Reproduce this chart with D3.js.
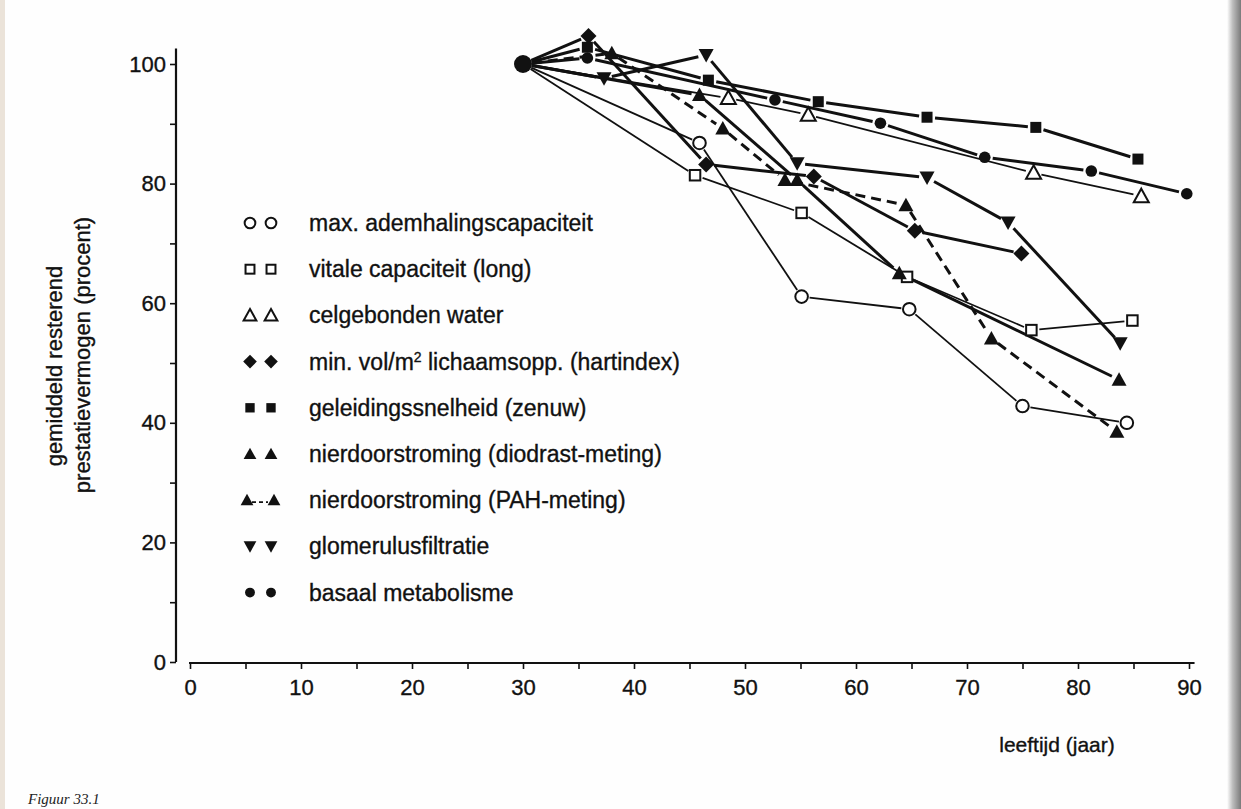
<!DOCTYPE html>
<html>
<head>
<meta charset="utf-8">
<script src="https://cdn.jsdelivr.net/npm/d3@7"></script>
<style>
  body { margin: 0; background: #fff; }
  svg { display: block; font-family: "Liberation Sans", Arial, Helvetica, sans-serif; }
  .txt { fill: #111; stroke: #111; stroke-width: 0.35px; }
</style>
</head>
<body>
<div id="chart"></div>
<script>
// ---- data ----
const seriesNames = [
  "max. ademhalingscapaciteit",
  "vitale capaciteit (long)",
  "celgebonden water",
  "min. vol/m2 lichaamsopp. (hartindex)",
  "geleidingssnelheid (zenuw)",
  "nierdoorstroming (diodrast-meting)",
  "nierdoorstroming (PAH-meting)",
  "glomerulusfiltratie",
  "basaal metabolisme"
];

const ademhalingAge = [30, 45.9, 55.1, 64.8, 75.0, 84.4];
const ademhalingVal = [100, 86.8, 61.1, 59.0, 42.8, 40.0];

const vitaleAge = [30, 45.5, 55.1, 64.6, 75.8, 84.9];
const vitaleVal = [100, 81.4, 75.1, 64.4, 55.5, 57.1];

const waterAge = [30, 48.5, 55.7, 76.0, 85.7];
const waterVal = [100, 94.3, 91.5, 81.8, 77.9];

const hartAge = [30, 35.9, 46.5, 56.2, 65.3, 74.9];
const hartVal = [100, 104.7, 83.2, 81.2, 72.1, 68.3];

const zenuwAge = [30, 35.8, 46.7, 56.6, 66.4, 76.2, 85.4];
const zenuwVal = [100, 102.8, 97.3, 93.7, 91.1, 89.4, 84.1];

const diodrastAge = [30, 45.9, 54.7, 63.9, 83.7];
const diodrastVal = [100, 94.8, 80.6, 65.0, 47.2];

const pahAge = [30, 38.0, 48.0, 53.6, 64.5, 72.2, 83.5];
const pahVal = [100, 101.8, 89.2, 80.6, 76.4, 54.1, 38.5];

const glomAge = [30, 37.3, 46.5, 54.7, 66.4, 73.7, 83.8];
const glomVal = [100, 97.6, 101.5, 83.4, 81.0, 73.5, 53.3];

const metabAge = [30, 35.8, 52.7, 62.2, 71.6, 81.2, 89.8];
const metabVal = [100, 101.0, 94.0, 90.1, 84.4, 82.1, 78.3];

const xTicks = d3.range(0, 91, 5);
const yTicks = d3.range(0, 101, 10);

// ---- layout ----
const W = 1241, H = 809;
const x = d3.scaleLinear().domain([0, 90]).range([190, 1189]);
const y = d3.scaleLinear().domain([0, 100]).range([662, 64]);

const svg = d3.select("#chart").append("svg")
  .attr("width", W).attr("height", H);

// paper
svg.append("rect").attr("width", W).attr("height", H).attr("fill", "#fefefe");
svg.append("rect").attr("width", 5).attr("height", H).attr("fill", "#ebe3d9");
const grad = svg.append("defs").append("linearGradient").attr("id", "edge");
grad.append("stop").attr("offset", "0").attr("stop-color", "#fff");
grad.append("stop").attr("offset", "0.4").attr("stop-color", "#bdbdbd");
grad.append("stop").attr("offset", "1").attr("stop-color", "#7a7a7a");
svg.append("rect").attr("x", 1227).attr("width", 14).attr("height", H).attr("fill", "url(#edge)");

// style per series: marker, filled, line width, dashed
const styles = [
  { shape: "circle",   fill: false, w: 1.8, dash: null },
  { shape: "square",   fill: false, w: 1.8, dash: null },
  { shape: "triangle", fill: false, w: 1.8, dash: null },
  { shape: "diamond",  fill: true,  w: 3,   dash: null },
  { shape: "square",   fill: true,  w: 3,   dash: null },
  { shape: "triangle", fill: true,  w: 3,   dash: null },
  { shape: "triangle", fill: true,  w: 3,   dash: "10,6" },
  { shape: "tridown",  fill: true,  w: 3,   dash: null },
  { shape: "circle",   fill: true,  w: 3,   dash: null }
];

const ages = [ademhalingAge, vitaleAge, waterAge, hartAge, zenuwAge, diodrastAge, pahAge, glomAge, metabAge];
const vals = [ademhalingVal, vitaleVal, waterVal, hartVal, zenuwVal, diodrastVal, pahVal, glomVal, metabVal];

function drawMarker(g, shape, filled, cx, cy, k) {
  const fill = filled ? "#111" : "#fff";
  const sw = filled ? 0 : 2;
  let node;
  if (shape === "circle") {
    node = g.append("circle").attr("cx", cx).attr("cy", cy).attr("r", (filled ? 5.8 : 6.3) * k);
  } else if (shape === "square") {
    const s = (filled ? 11 : 10.5) * k;
    node = g.append("rect").attr("x", cx - s / 2).attr("y", cy - s / 2).attr("width", s).attr("height", s);
  } else if (shape === "diamond") {
    const s = 8 * k;
    node = g.append("path").attr("d", `M${cx},${cy - s}L${cx + s},${cy}L${cx},${cy + s}L${cx - s},${cy}Z`);
  } else {
    const s = 7.5 * k, dir = shape === "tridown" ? -1 : 1;
    node = g.append("path").attr("d",
      `M${cx},${cy - dir * s}L${cx + s},${cy + dir * s * 0.8}L${cx - s},${cy + dir * s * 0.8}Z`);
  }
  node.attr("fill", fill).attr("stroke", "#111").attr("stroke-width", sw);
}

// lines, trimmed near the markers like in the print
const linesG = svg.append("g");
const gap = 8;
ages.forEach((a, i) => {
  const st = styles[i];
  for (let j = 0; j < a.length - 1; j++) {
    const x1 = x(a[j]), y1 = y(vals[i][j]), x2 = x(a[j + 1]), y2 = y(vals[i][j + 1]);
    const len = Math.hypot(x2 - x1, y2 - y1);
    const g1 = j === 0 ? 9 : gap, g2 = gap;
    if (len <= g1 + g2) continue;
    const ux = (x2 - x1) / len, uy = (y2 - y1) / len;
    linesG.append("line")
      .attr("x1", x1 + ux * g1).attr("y1", y1 + uy * g1)
      .attr("x2", x2 - ux * g2).attr("y2", y2 - uy * g2)
      .attr("stroke", "#111").attr("stroke-width", st.w)
      .attr("stroke-dasharray", st.dash);
  }
});

// markers
const markG = svg.append("g");
ages.forEach((a, i) => {
  a.forEach((age, j) => {
    if (j === 0) return;
    drawMarker(markG, styles[i].shape, styles[i].fill, x(age), y(vals[i][j]), 1);
  });
});
// common origin at age 30
markG.append("circle").attr("cx", x(30)).attr("cy", y(100)).attr("r", 9).attr("fill", "#111");

// ---- axes ----
const yAxis = d3.axisLeft(y).tickValues(yTicks).tickSize(6).tickSizeOuter(0)
  .tickFormat(d => d % 20 === 0 ? d : "");
const yG = svg.append("g").attr("transform", "translate(176,0)").call(yAxis);
yG.select(".domain").remove();
yG.append("line").attr("x1", 0).attr("x2", 0).attr("y1", y(102.6)).attr("y2", y(0))
  .attr("stroke", "#111").attr("stroke-width", 2.2);

const xAxis = d3.axisBottom(x).tickValues(xTicks).tickSize(6).tickSizeOuter(0)
  .tickFormat(d => d % 10 === 0 ? d : "");
const xG = svg.append("g").attr("transform", "translate(0,663)").call(xAxis);
xG.select(".domain").remove();
xG.append("line").attr("x1", x(0) - 1).attr("x2", x(90.5)).attr("y1", 0).attr("y2", 0)
  .attr("stroke", "#111").attr("stroke-width", 2.2);

svg.selectAll(".tick line").attr("stroke", "#111").attr("stroke-width", 1.6);
svg.selectAll(".tick text").attr("class", "txt").style("font-size", "22px")
  .style("font-family", "'Liberation Sans', Arial, sans-serif");
yG.selectAll(".tick text").attr("x", -10);
xG.selectAll(".tick text").attr("y", 16);

// axis titles
svg.append("text").attr("class", "txt").attr("transform", "translate(62,366) rotate(-90)")
  .attr("text-anchor", "middle").style("font-size", "22px")
  .text("gemiddeld resterend");
svg.append("text").attr("class", "txt").attr("transform", "translate(90,355) rotate(-90)")
  .attr("text-anchor", "middle").style("font-size", "22px")
  .text("prestatievermogen (procent)");
svg.append("text").attr("class", "txt").attr("x", 1057).attr("y", 752).attr("text-anchor", "middle")
  .style("font-size", "21px").text("leeftijd (jaar)");

// ---- legend ----
const legG = svg.append("g");
seriesNames.forEach((name, i) => {
  const ly = 223 + i * 46.2;
  const st = styles[i];
  if (st.dash) {
    legG.append("line").attr("x1", 252).attr("x2", 268).attr("y1", ly + 2).attr("y2", ly + 2)
      .attr("stroke", "#111").attr("stroke-width", 1.8).attr("stroke-dasharray", "4,3");
    drawMarker(legG, st.shape, st.fill, 247, ly, 0.85);
    drawMarker(legG, st.shape, st.fill, 274, ly, 0.85);
  } else {
    drawMarker(legG, st.shape, st.fill, 250, ly, 0.85);
    drawMarker(legG, st.shape, st.fill, 271, ly, 0.85);
  }
  const t = legG.append("text").attr("class", "txt").attr("x", 309).attr("y", ly + 8)
    .style("font-size", "23px");
  if (name.indexOf("m2") >= 0) {
    const parts = name.split("m2");
    t.append("tspan").text(parts[0] + "m");
    t.append("tspan").attr("dy", -8).style("font-size", "14px").text("2");
    t.append("tspan").attr("dy", 8).text(parts[1]);
  } else {
    t.text(name);
  }
});

// caption at the bottom edge
svg.append("text").attr("x", 28).attr("y", 804)
  .style("font-family", "'Liberation Serif', 'DejaVu Serif', serif")
  .style("font-style", "italic").style("font-size", "15px").attr("fill", "#222")
  .text("Figuur 33.1");
</script>
</body>
</html>
